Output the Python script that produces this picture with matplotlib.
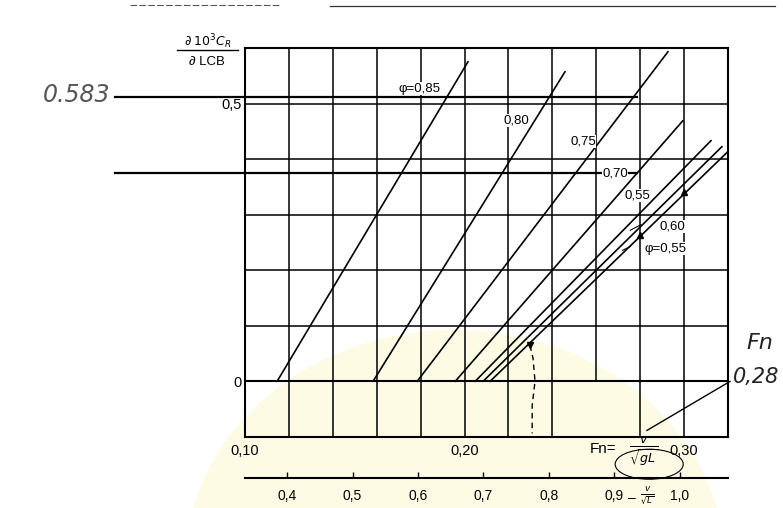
import numpy as np
import matplotlib
matplotlib.use('Agg')
import matplotlib.pyplot as plt
from matplotlib.patches import Ellipse
from matplotlib.lines import Line2D

plt.rcParams['font.family'] = ['Liberation Sans', 'DejaVu Sans']
plt.rcParams['mathtext.fontset'] = 'dejavusans'

# ============= chart data ============================================
# each phi line sits on the zero line up to fn_start, then rises straight to (fn_end, dcr_end)
phi_values = [0.85, 0.80, 0.75, 0.70, 0.65, 0.60, 0.55]
fn_start = [0.1146, 0.1583, 0.1784, 0.1957, 0.2048, 0.2084, 0.2116]
fn_end = [0.2016, 0.2458, 0.2927, 0.2995, 0.3123, 0.3173, 0.3200]
dcr_end = [0.5755, 0.5576, 0.5935, 0.4694, 0.4335, 0.4227, 0.4137]
# the labels as printed (the 0.65 line is printed as "0,55" in the scan)
phi_labels = ['φ=0,85', '0,80', '0,75', '0,70', '0,55', '0,60', 'φ=0,55']

fn_ticks = [0.10, 0.20, 0.30]
fn_ticklabels = ['0,10', '0,20', '0,30']
dcr_ticks = [0.0, 0.5]
dcr_ticklabels = ['0', '0,5']
# second scale v/sqrt(L) (knots, ft): Fn = 0.298 v/sqrt(L)
vl_ticks = [0.4, 0.5, 0.6, 0.7, 0.8, 0.9, 1.0]
vl_ticklabels = ['0,4', '0,5', '0,6', '0,7', '0,8', '0,9', '1,0']
vl_factor = 0.298

# pencil marks added on the scan
pencil_levels = [0.5126, 0.3759]
pencil_fn = [0.0408, 0.2786]
dashed_fn = [0.2298, 0.2312, 0.2321, 0.2308, 0.2308]
dashed_dcr = [0.0647, 0.0414, 0.0, -0.0432, -0.0935]
slant_fn = [0.2831, 0.3209]
slant_dcr = [-0.0881, 0.0]

# label positions (data coords)
label_pos = [(0.1797, 0.527), (0.2235, 0.469), (0.2540, 0.432), (0.2686, 0.374),
             (0.2786, 0.3345), (0.2945, 0.279), (0.2915, 0.239)]

W, H = 783, 508


def px(x, y):
    return x / W, 1 - y / H


fig = plt.figure(figsize=(W / 100, H / 100), dpi=100)
fig.patch.set_facecolor('white')

# faint yellow watermark of the scanned page
fig.add_artist(Ellipse(px(455, 565), 540 / W, 470 / H, transform=fig.transFigure,
                       facecolor='#fdfbe4', edgecolor='none', zorder=0))
# scan edge line at the top
fig.add_artist(Line2D([130 / W, 280 / W], [1 - 5 / H] * 2, transform=fig.transFigure,
                      color='#555555', lw=0.8, ls=(0, (6, 2))))
fig.add_artist(Line2D([330 / W, 775 / W], [1 - 6 / H] * 2, transform=fig.transFigure,
                      color='#333333', lw=0.9))

ax = fig.add_axes([245 / W, 1 - 437 / H, 483 / W, 389 / H])
ax.set_facecolor('none')
ax.set_xlim(0.10, 0.32)
ax.set_ylim(-0.1, 0.6)

# grid (the 0.26 line is not drawn in the lowest row)
for x in np.arange(0.12, 0.305, 0.02):
    lo = 0.0 if abs(x - 0.26) < 1e-6 else -0.1
    ax.vlines(x, lo, 0.6, color='black', lw=1.1)
for y in np.arange(0.1, 0.55, 0.1):
    ax.hlines(y, 0.10, 0.32, color='black', lw=1.1)
ax.hlines(0.0, 0.10, 0.32, color='black', lw=1.5)

for s in ax.spines.values():
    s.set_linewidth(1.5)

# phi lines
for f0, f1, d1 in zip(fn_start, fn_end, dcr_end):
    ax.plot([f0, f1], [0.0, d1], color='black', lw=1.2, solid_capstyle='round')

for lab, (x, y) in zip(phi_labels, label_pos):
    ax.text(x, y, lab, fontsize=9.5, ha='center', va='center', zorder=5,
            bbox=dict(facecolor='white', edgecolor='none', pad=0.3))
# small leaders of the two lowest labels
ax.plot([0.2803, 0.2755], [0.282, 0.272], color='black', lw=0.8)
ax.plot([0.2756, 0.2720], [0.243, 0.236], color='black', lw=0.8)

ax.set_xticks(fn_ticks)
ax.set_xticklabels(fn_ticklabels)
ax.set_yticks(dcr_ticks)
ax.set_yticklabels(dcr_ticklabels)
ax.tick_params(axis='x', length=0, pad=5, labelsize=10.5)
ax.tick_params(axis='y', length=0, pad=2.5, labelsize=10.5)

sec = ax.secondary_xaxis(-0.1064, functions=(lambda f: f / vl_factor, lambda v: v * vl_factor))
sec.set_xticks(vl_ticks)
sec.set_xticklabels(vl_ticklabels)
sec.tick_params(direction='in', length=4, width=1.0, pad=7.5, labelsize=10)
sec.spines['bottom'].set_linewidth(1.5)

# axis titles
fig.text(*px(208, 42), r'$\partial\;10^{3}C_{R}$', fontsize=9, ha='center', va='center')
fig.add_artist(Line2D([177 / W, 238 / W], [1 - 50 / H] * 2, transform=fig.transFigure,
                      color='black', lw=1.0))
fig.text(*px(207, 62), '∂ LCB', fontsize=9.5, ha='center', va='center')

fig.text(*px(603, 449), 'Fn=', fontsize=11, ha='center', va='center')
fig.text(*px(644, 451), r'$\frac{v}{\sqrt{gL}}$', fontsize=13, ha='center', va='center')
fig.text(*px(632, 498), '–', fontsize=10, ha='center', va='center')
fig.text(*px(647, 496), r'$\frac{v}{\sqrt{L}}$', fontsize=9, ha='center', va='center')

# pencil annotations
for lev in pencil_levels:
    ax.plot(pencil_fn, [lev, lev], color='black', lw=1.6, clip_on=False)
ax.plot(dashed_fn, dashed_dcr, color='black', lw=1.0, ls=(0, (4, 3)), clip_on=False)
ax.plot(dashed_fn[0], dashed_dcr[0], marker='v', color='black', ms=5, clip_on=False)
ax.plot(slant_fn, slant_dcr, color='black', lw=1.0, clip_on=False)
ax.plot([0.30], [0.3417], marker='^', color='black', ms=4)
ax.plot([0.28], [0.2626], marker='^', color='black', ms=4)
ax.add_patch(Ellipse((0.2841, -0.149), 0.031, 0.054, fill=False, edgecolor='black',
                     lw=0.8, clip_on=False))

fig.text(*px(77, 95), '0.583', fontsize=17, ha='center', va='center', color='#555555',
         style='italic', family='DejaVu Sans', fontweight='light')
fig.text(*px(760, 343), 'Fn', fontsize=16, ha='center', va='center', color='#222222',
         style='italic', family='DejaVu Sans')
fig.text(*px(733, 377), '0,28', fontsize=15, ha='left', va='center', color='#222222',
         style='italic', family='DejaVu Sans')

fig.savefig('out.png', dpi=100)
